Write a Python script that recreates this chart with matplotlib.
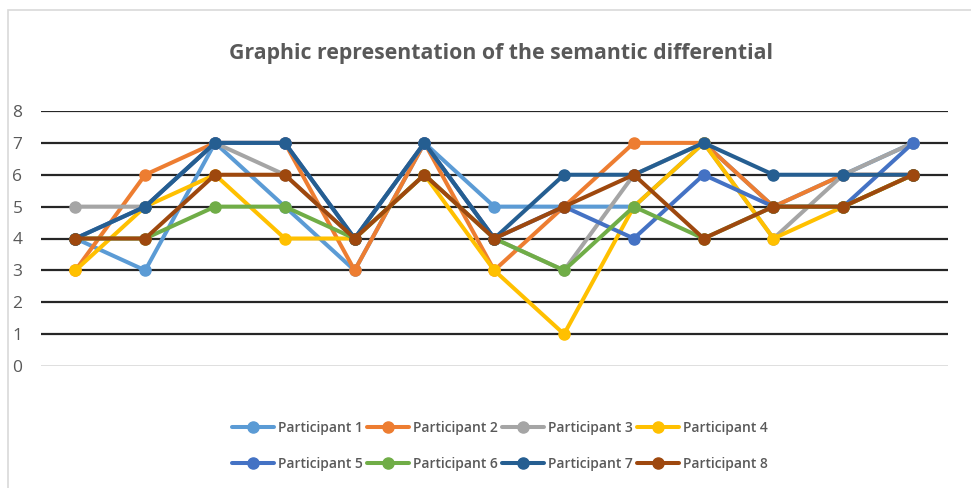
import matplotlib
matplotlib.use("Agg")
import matplotlib.pyplot as plt
from matplotlib.patches import Rectangle

categories = list(range(1, 14))
series_names = ["Participant 1", "Participant 2", "Participant 3", "Participant 4",
                "Participant 5", "Participant 6", "Participant 7", "Participant 8"]
p1 = [4, 3, 7, 5, 3, 7, 5, 5, 5, 7, 5, 6, 7]
p2 = [3, 6, 7, 7, 3, 7, 3, 5, 7, 7, 5, 6, 6]
p3 = [5, 5, 7, 6, 4, 7, 4, 3, 6, 7, 4, 6, 7]
p4 = [3, 5, 6, 4, 4, 6, 3, 1, 5, 7, 4, 5, 6]
p5 = [4, 5, 7, 7, 4, 7, 4, 5, 4, 6, 5, 5, 7]
p6 = [4, 4, 5, 5, 4, 6, 4, 3, 5, 4, 5, 5, 6]
p7 = [4, 5, 7, 7, 4, 7, 4, 6, 6, 7, 6, 6, 6]
p8 = [4, 4, 6, 6, 4, 6, 4, 5, 6, 4, 5, 5, 6]
series = [p1, p2, p3, p4, p5, p6, p7, p8]
colors = ["#5B9BD5", "#ED7D31", "#A5A5A5", "#FFC000",
          "#4472C4", "#70AD47", "#255E91", "#9E480E"]
yticks = list(range(0, 9))

fig = plt.figure(figsize=(9.71, 4.88), dpi=100)
fig.patches.append(Rectangle((8/971, -0.1), 1.2, 1.1 - 10/488, transform=fig.transFigure,
                             fill=False, edgecolor="#D9D9D9", linewidth=1.2))
ax = fig.add_axes([40.5/971, 1-366/488, (948-40.5)/971, (366-111)/488])

x = list(range(len(categories)))
handles = []
for name, vals, c in zip(series_names, series, colors):
    h, = ax.plot(x, vals, color=c, lw=2.9, marker="o", ms=8, label=name,
                 solid_joinstyle="round", solid_capstyle="round", clip_on=False)
    handles.append(h)

ax.set_xlim(-0.5, len(categories) - 0.5)
ax.set_ylim(0, 8)
ax.set_yticks(yticks)
ax.set_yticklabels([str(t) for t in yticks], fontsize=12.5, color="#595959", family="Open Sans")
ax.set_xticks([])
for t in yticks[1:]:
    ax.axhline(t, color="#262626", lw=1.6, zorder=0.5)
ax.axhline(0, color="#D9D9D9", lw=1.2, zorder=0.5)
for s in ax.spines.values():
    s.set_visible(False)
ax.tick_params(axis="y", length=0, pad=13)

fig.text(501/971, 1-53/488, "Graphic representation of the semantic differential",
         ha="center", va="center", fontsize=15.3, fontweight="bold",
         color="#595959", family="Open Sans")

order = [0, 4, 1, 5, 2, 6, 3, 7]
leg = fig.legend([handles[i] for i in order], [series_names[i] for i in order],
                 loc="center", bbox_to_anchor=(0.515, 1-446/488), ncol=4, frameon=False,
                 handlelength=3.0, columnspacing=0.3, handletextpad=0.3,
                 labelspacing=1.55, prop={"family": "Open Sans", "weight": "semibold", "size": 10})
for t in leg.get_texts():
    t.set_color("#595959")

fig.savefig("out.png", dpi=100)
